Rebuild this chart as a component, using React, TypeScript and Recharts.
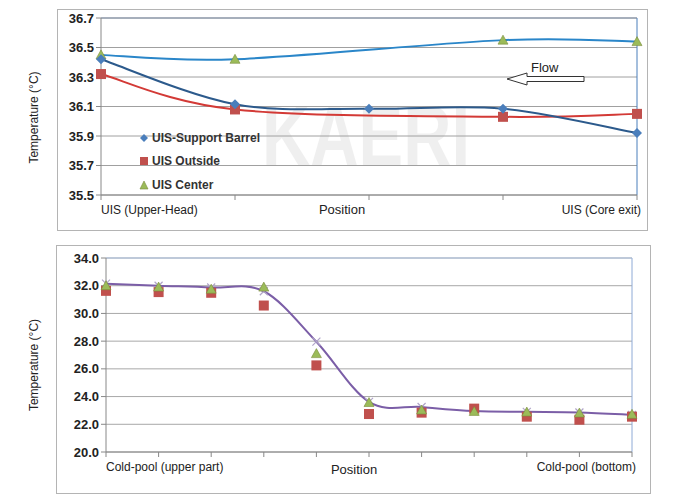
import { LineChart, Line, XAxis, YAxis, CartesianGrid, ReferenceLine, Legend } from "recharts";

// upper panel: UIS region
const upperPositions = [1, 2, 3, 4, 5];
const upperTickLabels = ["UIS (Upper-Head)", "", "", "", "UIS (Core exit)"];
const supportBarrel = [36.42, 36.115, 36.085, 36.085, 35.92];
const uisOutside = [36.32, 36.08, null, 36.03, 36.05];
const uisCenter = [36.45, 36.42, null, 36.55, 36.54];
const upperYTicks = [35.5, 35.7, 35.9, 36.1, 36.3, 36.5, 36.7];

// lower panel: cold pool
const poolPositions = [1, 2, 3, 4, 5, 6, 7, 8, 9, 10, 11];
const poolTickLabels = ["Cold-pool (upper part)", "", "", "", "", "", "", "", "", "", "Cold-pool (bottom)"];
const poolRed = [31.63, 31.54, 31.49, 30.57, 26.25, 22.74, 22.84, 23.13, 22.55, 22.33, 22.55];
const poolGreen = [32.0, 31.9, 31.75, 31.9, 27.1, 23.57, 23.03, 22.93, 22.88, 22.81, 22.72];
const poolPurple = [32.15, 32.0, 31.87, 31.6, 27.96, 23.62, 23.25, 22.95, 22.9, 22.85, 22.68];
const poolYTicks = [20, 22, 24, 26, 28, 30, 32, 34];

const upperData = upperPositions.map((pos, i) => ({
  pos,
  barrel: supportBarrel[i],
  outside: uisOutside[i],
  center: uisCenter[i],
}));

const poolData = poolPositions.map((pos, i) => ({
  pos,
  red: poolRed[i],
  green: poolGreen[i],
  purple: poolPurple[i],
}));

const FONT = '"Liberation Sans", Arial, sans-serif';
const BLUE = "#4a7ebb";
const NAVY = "#2c5a8c";
const RED = "#c0504d";
const GREEN = "#9bbb59";

// excel-like smoothed line (catmull-rom through the points)
const smoothCurve = (ctx: any) => {
  let pts: number[][] = [];
  return {
    areaStart() {},
    areaEnd() {},
    lineStart() {
      pts = [];
    },
    point(x: number, y: number) {
      pts.push([+x, +y]);
    },
    lineEnd() {
      if (!pts.length) return;
      ctx.moveTo(pts[0][0], pts[0][1]);
      for (let i = 0; i < pts.length - 1; i++) {
        const p0 = pts[i - 1] || pts[i];
        const p1 = pts[i];
        const p2 = pts[i + 1];
        const p3 = pts[i + 2] || p2;
        ctx.bezierCurveTo(
          p1[0] + (p2[0] - p0[0]) / 6,
          p1[1] + (p2[1] - p0[1]) / 6,
          p2[0] - (p3[0] - p1[0]) / 6,
          p2[1] - (p3[1] - p1[1]) / 6,
          p2[0],
          p2[1]
        );
      }
    },
  };
};

function empty(p: any) {
  return p.cx == null || p.cy == null || p.value == null;
}

const diamond = (color: string, s: number) => (p: any) =>
  empty(p) ? <g key={p.index} /> : (
    <path key={p.index} d={`M${p.cx},${p.cy - s}L${p.cx + s},${p.cy}L${p.cx},${p.cy + s}L${p.cx - s},${p.cy}Z`} fill={color} />
  );

const square = (color: string, s: number) => (p: any) =>
  empty(p) ? <g key={p.index} /> : (
    <rect key={p.index} x={p.cx - s} y={p.cy - s} width={s * 2} height={s * 2} fill={color} />
  );

const triangle = (color: string, s: number) => (p: any) =>
  empty(p) ? <g key={p.index} /> : (
    <path key={p.index} d={`M${p.cx},${p.cy - s}L${p.cx + s},${p.cy + s * 0.8}L${p.cx - s},${p.cy + s * 0.8}Z`} fill={color} stroke="#7a8c3a" strokeWidth={0.6} />
  );

const cross = (color: string, s: number) => (p: any) =>
  empty(p) ? <g key={p.index} /> : (
    <path key={p.index} d={`M${p.cx - s},${p.cy - s}L${p.cx + s},${p.cy + s}M${p.cx - s},${p.cy + s}L${p.cx + s},${p.cy - s}`} stroke={color} strokeWidth={1.2} />
  );

const edgeTick = (labels: string[]) => (p: any) => {
  const i = p.index;
  const label = labels[i];
  if (!label) return <g key={i} />;
  const anchor = i === 0 ? "start" : "end";
  const x = i === 0 ? p.x : p.x + 4;
  return (
    <text key={i} x={x} y={p.y + 12} textAnchor={anchor} fontSize={12} fill="#222" fontFamily={FONT}>
      {label}
    </text>
  );
};

const yTitle = (dy: number) => (p: any) => {
  const vb = p.viewBox;
  const cy = vb.y + vb.height / 2 + dy;
  return (
    <text x={38} y={cy} transform={`rotate(-90 38 ${cy})`} textAnchor="middle" fontSize={12} fill="#222" fontFamily={FONT}>
      Temperature (°C)
    </text>
  );
};

const xTitle = (dx: number, dy: number) => (p: any) => {
  const vb = p.viewBox;
  return (
    <text x={vb.x + vb.width / 2 + dx} y={vb.y + dy} textAnchor="middle" fontSize={13} fill="#222" fontFamily={FONT}>
      Position
    </text>
  );
};

const legendItems = [
  { name: "UIS-Support Barrel", icon: "diamond", color: BLUE },
  { name: "UIS Outside", icon: "square", color: RED },
  { name: "UIS Center", icon: "triangle", color: GREEN },
];

function UpperLegend() {
  return (
    <div style={{ fontFamily: FONT, fontWeight: "bold", fontSize: 12, color: "#333" }}>
      {legendItems.map((it) => (
        <div key={it.name} style={{ display: "flex", alignItems: "center", height: 23.5 }}>
          <svg width={10} height={10} style={{ marginRight: 3 }}>
            {it.icon === "diamond" && <path d="M5,1L9,5L5,9L1,5Z" fill={it.color} />}
            {it.icon === "square" && <rect x={1} y={1} width={8} height={8} fill={it.color} />}
            {it.icon === "triangle" && <path d="M5,1L9,9L1,9Z" fill={it.color} stroke="#7a8c3a" strokeWidth={0.6} />}
          </svg>
          <span>{it.name}</span>
        </div>
      ))}
    </div>
  );
}

export default function App() {
  return (
    <div style={{ position: "absolute", left: 0, top: 0, width: 682, height: 499, background: "#fff", overflow: "hidden" }}>
      {/* watermark */}
      <svg width={682} height={499} style={{ position: "absolute", left: 0, top: 0 }}>
        <text x={262} y={165} fontSize={86} fontWeight="bold" fontFamily={FONT} fill="#000" opacity={0.06} textLength={208} lengthAdjust="spacingAndGlyphs">
          KAERI
        </text>
      </svg>
      <div style={{ position: "absolute", left: 57, top: 9, width: 589, height: 220, border: "1px solid #b4b4b4" }} />
      <div style={{ position: "absolute", left: 56, top: 245, width: 593, height: 247, border: "1px solid #b4b4b4" }} />

      <div style={{ position: "absolute", left: 0, top: 0 }}>
        <LineChart width={682} height={240} data={upperData} margin={{ top: 18, right: 45, bottom: 15, left: 0 }}>
          <CartesianGrid vertical={false} stroke="#a0a0a0" />
          <XAxis
            dataKey="pos"
            type="number"
            domain={[1, 5]}
            ticks={upperPositions}
            height={30}
            stroke="#888"
            tickSize={5}
            tick={edgeTick(upperTickLabels)}
            label={{ content: xTitle(-27, 19) }}
          />
          <YAxis
            domain={[35.5, 36.7]}
            ticks={upperYTicks}
            width={101}
            stroke="#888"
            tickSize={5}
            tickFormatter={(v: number) => v.toFixed(1)}
            tick={{ fontSize: 13, fontWeight: "bold", fill: "#222", fontFamily: FONT }}
            label={{ content: yTitle(11) }}
          />
          <ReferenceLine x={5} stroke={BLUE} />
          <ReferenceLine y={36.7} stroke="#7f8fa8" />
          <Legend
            layout="horizontal"
            verticalAlign="middle"
            align="center"
            wrapperStyle={{ left: 139, top: 126, width: 130 }}
            content={() => <UpperLegend />}
          />
          <Line dataKey="center" type={smoothCurve as any} stroke="#2a86c9" strokeWidth={2} dot={triangle(GREEN, 5)} connectNulls isAnimationActive={false} />
          <Line dataKey="outside" type={smoothCurve as any} stroke="#d33a36" strokeWidth={2} dot={square(RED, 5)} connectNulls isAnimationActive={false} />
          <Line dataKey="barrel" type={smoothCurve as any} stroke={NAVY} strokeWidth={2} dot={diamond(BLUE, 5)} connectNulls isAnimationActive={false} />
        </LineChart>
      </div>

      {/* Flow arrow */}
      <svg width={682} height={499} style={{ position: "absolute", left: 0, top: 0, pointerEvents: "none" }}>
        <text x={531} y={72} fontSize={13} fontFamily={FONT} fill="#222">Flow</text>
        <path d="M507,79L527,73L527,76.5L584,76.5L584,81.5L527,81.5L527,85Z" fill="#fff" stroke="#333" strokeWidth={1} />
      </svg>

      <div style={{ position: "absolute", left: 0, top: 240 }}>
        <LineChart width={682} height={259} data={poolData} margin={{ top: 18, right: 50, bottom: 17, left: 0 }}>
          <CartesianGrid vertical={false} stroke="#a8a8a8" />
          <XAxis
            dataKey="pos"
            type="number"
            domain={[1, 11]}
            ticks={poolPositions}
            height={30}
            stroke="#888"
            tickSize={5}
            tick={edgeTick(poolTickLabels)}
            label={{ content: xTitle(-15, 22) }}
          />
          <YAxis
            domain={[20, 34]}
            ticks={poolYTicks}
            width={106}
            stroke="#888"
            tickSize={5}
            tickFormatter={(v: number) => v.toFixed(1)}
            tick={{ fontSize: 13, fontWeight: "bold", fill: "#222", fontFamily: FONT }}
            label={{ content: yTitle(10) }}
          />
          <ReferenceLine x={11} stroke="#8eaad6" />
          <ReferenceLine y={34} stroke="#a9bfdf" />
          <Line dataKey="purple" type={smoothCurve as any} stroke="#7b5ea7" strokeWidth={2} dot={cross("#b0a4c8", 4)} isAnimationActive={false} />
          <Line dataKey="red" stroke="none" dot={square(RED, 5)} isAnimationActive={false} />
          <Line dataKey="green" stroke="none" dot={triangle(GREEN, 5)} isAnimationActive={false} />
        </LineChart>
      </div>
    </div>
  );
}
